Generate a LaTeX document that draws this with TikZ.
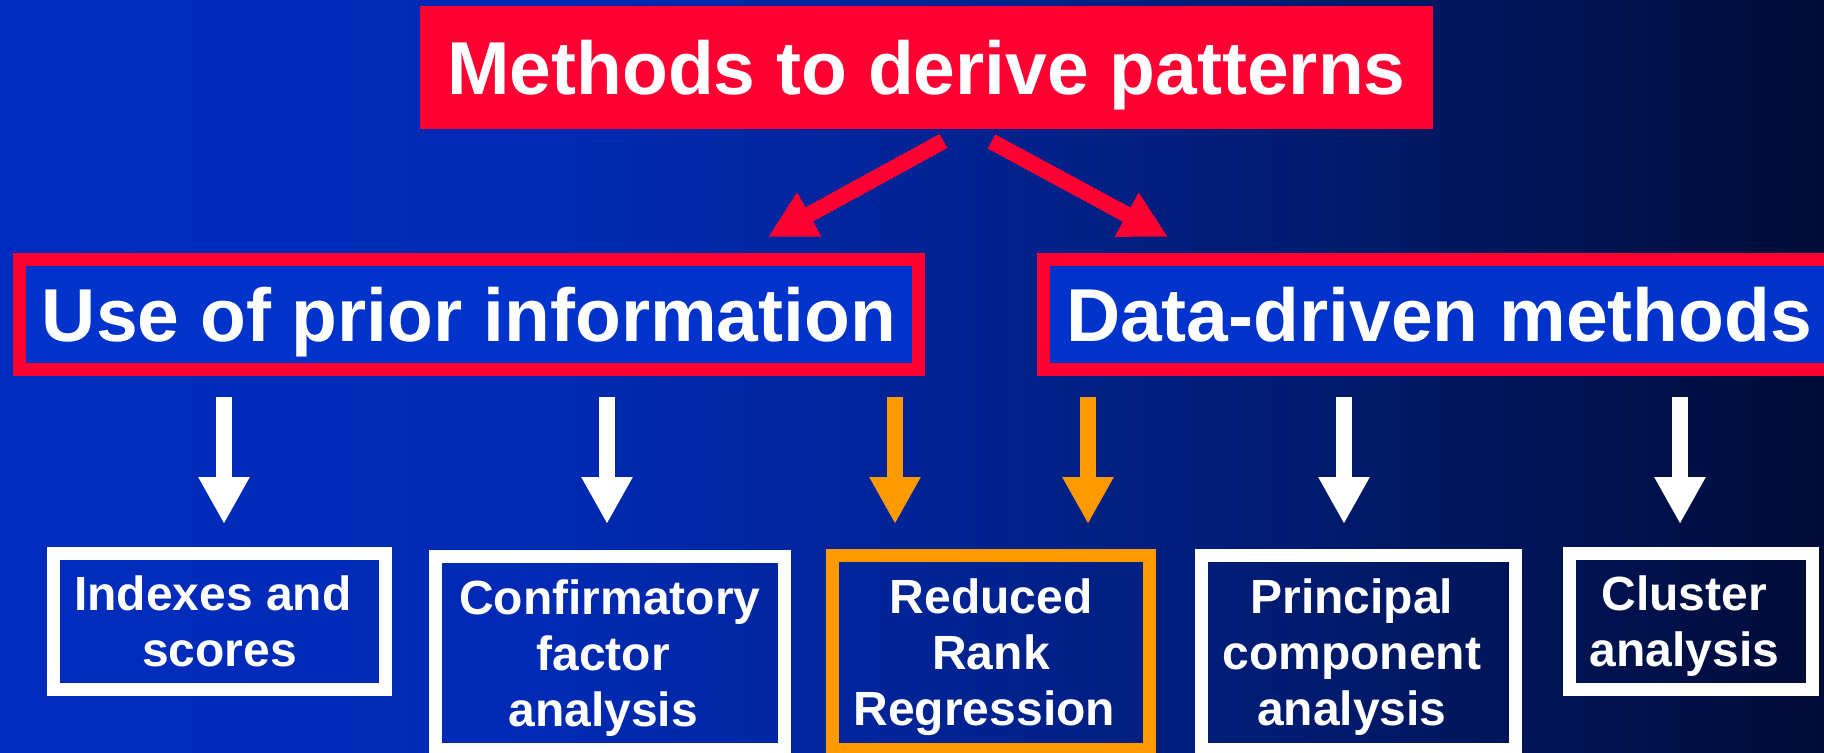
\documentclass[tikz,border=0pt]{standalone}
\usepackage{fontspec}
\setmainfont{Liberation Sans}
\usetikzlibrary{arrows.meta,calc}

\definecolor{bgA}{RGB}{0,44,190}
\definecolor{bgB}{RGB}{0,42,180}
\definecolor{bgC}{RGB}{0,34,142}
\definecolor{bgD}{RGB}{0,25,104}
\definecolor{bgE}{RGB}{0,12,56}
\definecolor{hotred}{RGB}{255,0,51}
\definecolor{boxblue}{RGB}{0,51,204}
\definecolor{amber}{RGB}{255,153,0}

% left-to-right fade of the slide background
\pgfdeclarehorizontalshading{bgfade}{100bp}{color(0bp)=(bgA); color(25bp)=(bgA); color(40bp)=(bgB); color(52.5bp)=(bgC); color(62.5bp)=(bgD); color(75bp)=(bgE); color(100bp)=(bgE)}

% struts that keep the cap line and the last baseline centred in a box
\newcommand\bigstrut{\rule[-9.07pt]{0pt}{45pt}}
\newcommand\smallstrut{\rule[-5.4pt]{0pt}{28pt}}
% a trailing word space that survives the line break
\newcommand\tailspace{\kern6.7pt}

\tikzset{
  titlebox/.style={fill=hotred, inner sep=0pt, outer sep=0pt, text=white,
    font=\bfseries\fontsize{37.5pt}{45pt}\selectfont},
  groupbox/.style={draw=hotred, line width=6.5pt, fill=boxblue, inner sep=0pt,
    outer sep=0pt, text=white, minimum height=55pt,
    font=\bfseries\fontsize{37.5pt}{45pt}\selectfont},
  methodbox/.style={draw=white, line width=6.5pt, inner sep=0pt, outer sep=0pt,
    text=white, align=center, font=\bfseries\fontsize{24pt}{28pt}\selectfont},
  splitarrow/.style={draw=hotred, line width=8pt,
    -{Triangle[width=23.5pt,length=23.5pt]}},
  downarrow/.style={draw=white, line width=8pt,
    -{Triangle[width=24pt,length=23.5pt]}},
}

\begin{document}
\begin{tikzpicture}[x=0.5pt, y=-0.5pt]
  \useasboundingbox (0,0) rectangle (1824,753);
  \clip (0,0) rectangle (1824,753);
  \shade[shading=bgfade] (0,0) rectangle (1824,753);

  % heading
  \node[titlebox, minimum width=506.5pt, minimum height=61.5pt] (T) at (926.5,67.5)
    {\bigstrut Methods to derive patterns};

  % the two families of methods
  \node[groupbox, minimum width=449.5pt] (L) at (469,314.5)
    {\bigstrut Use of prior information};
  \node[groupbox, minimum width=395.5pt] (R) at (1439,314.5)
    {\bigstrut Data-driven methods};

  % individual methods
  \node[methodbox, minimum width=166pt, minimum height=68pt] (B1) at (219.5,621.5)
    {\smallstrut Indexes and\tailspace\\\smallstrut scores};
  \node[methodbox, minimum width=174.5pt, minimum height=96.5pt] (B2) at (610,653)
    {\smallstrut Confirmatory\\\smallstrut factor\tailspace\\\smallstrut analysis\tailspace};
  \node[methodbox, draw=amber, minimum width=158.5pt, minimum height=97pt] (B3) at (991,652.5)
    {\smallstrut Reduced\\\smallstrut Rank\\\smallstrut Regression\tailspace};
  \node[methodbox, minimum width=157pt, minimum height=97pt] (B4) at (1358.5,652.5)
    {\smallstrut Principal\tailspace\\\smallstrut component\tailspace\\\smallstrut analysis\tailspace};
  \node[methodbox, minimum width=121.5pt, minimum height=68pt] (B5) at (1691,621.5)
    {\smallstrut Cluster\tailspace\\\smallstrut analysis\tailspace};

  % arrow ends
  \coordinate (sL) at (943.5,141);
  \coordinate (eL) at (768,237);
  \coordinate (sR) at (991.5,141.5);
  \coordinate (eR) at (1168,237);
  \foreach \n/\x in {1/224, 2/607, 3/895, 4/1088, 5/1344, 6/1680} {
    \coordinate (d\n) at (\x,397);
    \coordinate (t\n) at (\x,524);
  }

  \draw[splitarrow] (sL) -- (eL);
  \draw[splitarrow] (sR) -- (eR);

  \draw[downarrow] (d1) -- (t1);
  \draw[downarrow] (d2) -- (t2);
  \draw[downarrow, draw=amber] (d3) -- (t3);
  \draw[downarrow, draw=amber] (d4) -- (t4);
  \draw[downarrow] (d5) -- (t5);
  \draw[downarrow] (d6) -- (t6);
\end{tikzpicture}
\end{document}
